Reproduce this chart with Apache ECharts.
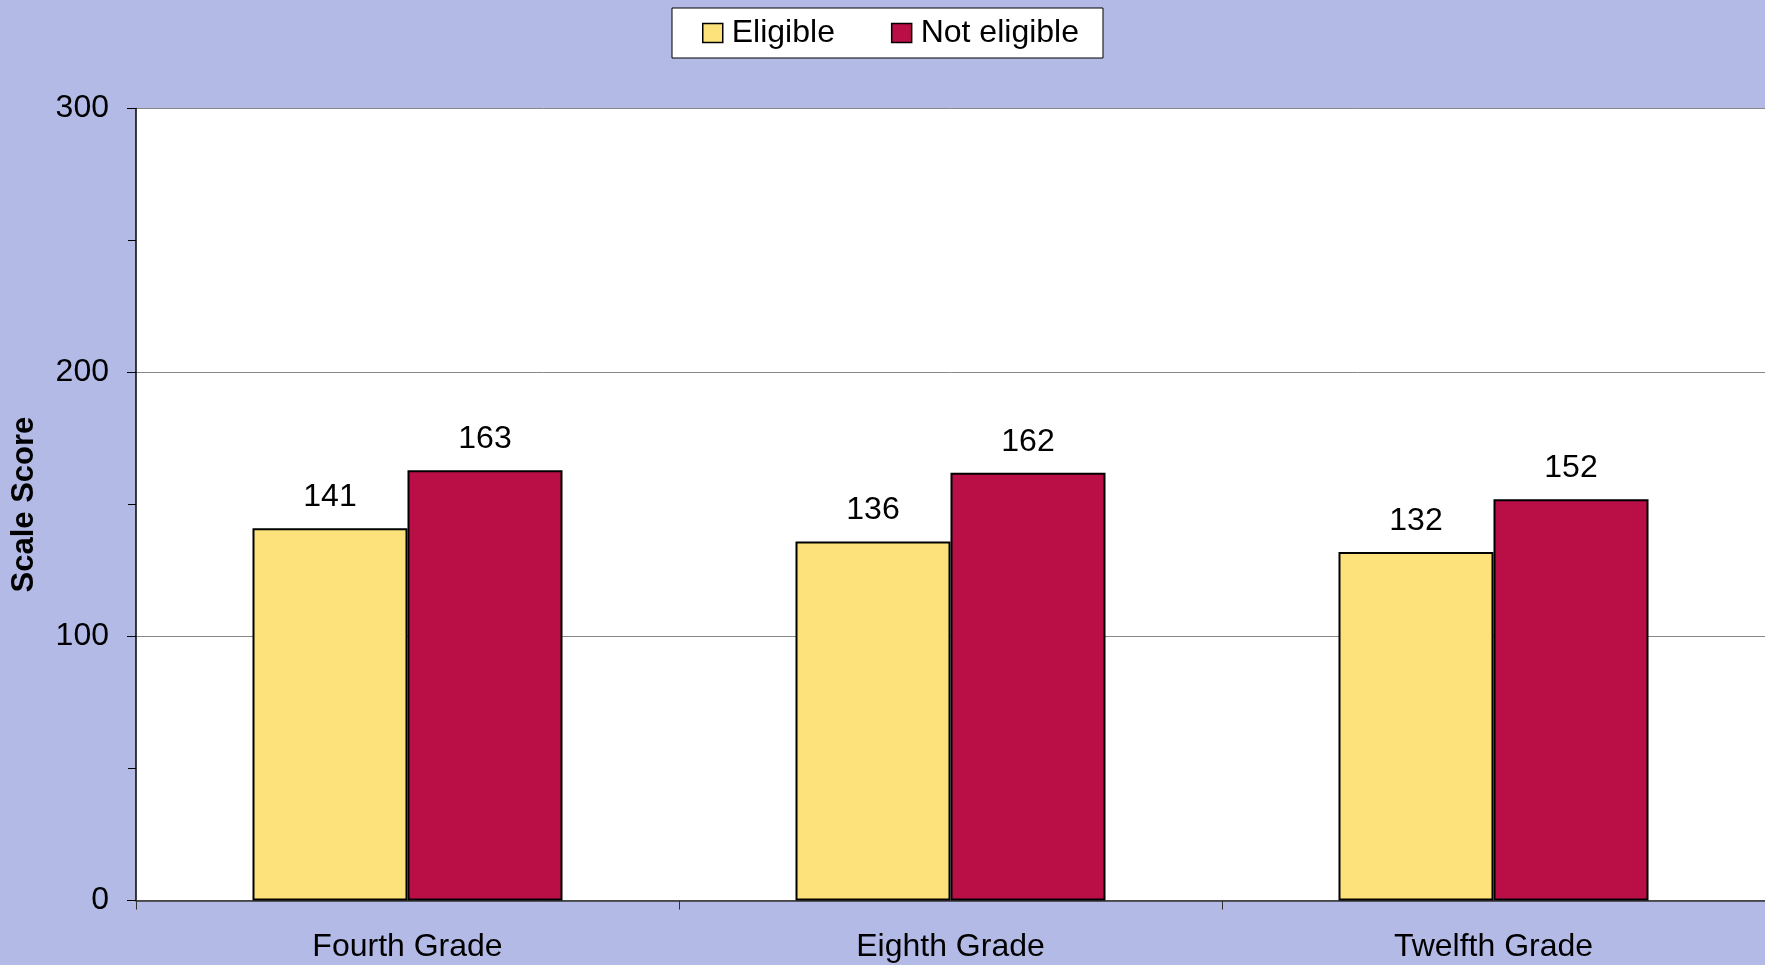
<!DOCTYPE html>
<html>
<head>
<meta charset="utf-8">
<script src="https://cdn.jsdelivr.net/npm/echarts@6/dist/echarts.min.js"></script>
<style>
html,body{margin:0;padding:0;background:#B3BAE6;}
#chart{width:1765px;height:965px;}
</style>
</head>
<body>
<div id="chart"></div>
<script>
const categories = ['Fourth Grade', 'Eighth Grade', 'Twelfth Grade'];
const seriesNames = ['Eligible', 'Not eligible'];
const eligible = [141, 136, 132];
const notEligible = [163, 162, 152];
const yTicks = [0, 100, 200, 300];

const FONT = '"Liberation Sans", Arial, sans-serif';
const FS = 32;
const chart = echarts.init(document.getElementById('chart'), null, {renderer: 'canvas'});

function barSeries(name, data, color) {
  return {
    name: name,
    type: 'bar',
    data: data,
    barWidth: 155,
    barGap: '0%',
    itemStyle: {color: color, borderColor: '#000', borderWidth: 2},
    label: {
      show: true, position: 'top', distance: 15,
      color: '#000', fontSize: FS, fontFamily: FONT
    }
  };
}

chart.setOption({
  backgroundColor: '#B3BAE6',
  animation: false,
  textStyle: {fontFamily: FONT},
  legend: {
    data: seriesNames,
    left: 672, top: 8,
    backgroundColor: '#fff',
    borderColor: '#000', borderWidth: 1,
    padding: [9, 24, 9, 30],
    itemWidth: 20, itemHeight: 19, itemGap: 56,
    icon: 'rect',
    itemStyle: {borderColor: '#000', borderWidth: 1.5},
    textStyle: {fontSize: FS, color: '#000', fontFamily: FONT, padding: [4, 0, 0, 4]}
  },
  grid: {
    left: 136, right: 0, top: 108.5, bottom: 64.4,
    outerBoundsMode: 'none',
    containLabel: false,
    show: true, backgroundColor: '#fff', borderWidth: 0
  },
  xAxis: {
    type: 'category',
    data: categories,
    axisLine: {show: true, lineStyle: {color: '#333', width: 1.5}},
    axisTick: {show: true, length: 9, lineStyle: {color: '#333', width: 1}},
    axisLabel: {fontSize: FS, color: '#000', margin: 31, fontFamily: FONT},
    splitLine: {show: false}
  },
  yAxis: {
    type: 'value',
    min: yTicks[0], max: yTicks[yTicks.length - 1], interval: 100,
    name: 'Scale Score',
    nameLocation: 'middle',
    nameRotate: 90,
    nameGap: 96,
    nameTextStyle: {fontSize: 31, fontWeight: 'bold', color: '#000', fontFamily: FONT},
    axisLine: {show: true, lineStyle: {color: '#000', width: 1.5}},
    axisTick: {show: true, length: 9, lineStyle: {color: '#000'}},
    minorTick: {show: true, splitNumber: 2, length: 8, lineStyle: {color: '#000'}},
    axisLabel: {fontSize: FS, color: '#000', margin: 27, fontFamily: FONT, padding: [5, 0, 0, 0]},
    splitLine: {show: true, lineStyle: {color: '#888', width: 1}},
    minorSplitLine: {show: false}
  },
  series: [
    barSeries(seriesNames[0], eligible, '#FDE27C'),
    barSeries(seriesNames[1], notEligible, '#B90E46')
  ]
});
</script>
</body>
</html>
